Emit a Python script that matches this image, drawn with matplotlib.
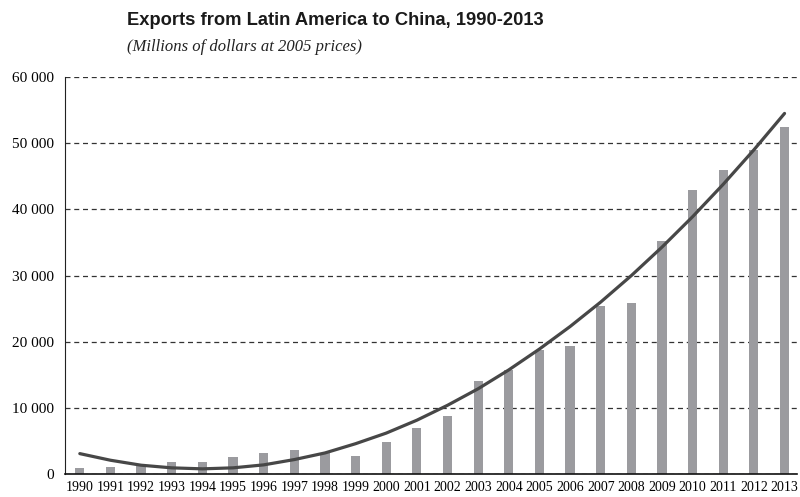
import matplotlib.pyplot as plt
import numpy as np

years = [str(y) for y in range(1990, 2014)]
exports = [1000, 1100, 1600, 1800, 1900, 2600, 3200, 3600, 3200, 2800,
           4800, 7000, 8800, 14100, 15800, 18700, 19300, 25400, 25900, 35200,
           42900, 45900, 49000, 52400]
trend = [3100, 2100, 1350, 950, 800, 950, 1400, 2200, 3200, 4600,
         6200, 8150, 10400, 12900, 15750, 18900, 22300, 26000, 30000, 34300,
         38900, 43800, 49000, 54500]

x = np.arange(len(years))

fig = plt.figure(figsize=(8, 4.97), dpi=100)
ax = fig.add_axes([0.081, 0.046, 0.915, 0.799])

ax.bar(x, exports, width=0.3, color="#9b9b9f", zorder=2)
ax.plot(x, trend, color="#474747", lw=2.3, zorder=3, solid_capstyle="round")

ax.set_xlim(-0.49, 23.4)
ax.set_ylim(0, 60000)
ax.set_yticks(range(0, 60001, 10000))
ax.set_yticklabels(["0", "10 000", "20 000", "30 000", "40 000", "50 000", "60 000"],
                   fontfamily="Liberation Serif", fontsize=11)
ax.set_xticks(x)
ax.set_xticklabels(years, fontfamily="Liberation Serif", fontsize=10)
ax.tick_params(length=0)
ax.tick_params(axis="y", pad=8)
ax.tick_params(axis="x", pad=5)

ax.grid(axis="y", color="#333333", linestyle=(0, (4, 3)), lw=0.9)
ax.set_axisbelow(True)
for s in ["top", "right"]:
    ax.spines[s].set_visible(False)
ax.spines["left"].set_color("#222222")
ax.spines["bottom"].set_color("#111111")
ax.spines["bottom"].set_linewidth(1.2)

fig.text(0.159, 0.958, "Exports from Latin America to China, 1990-2013",
         fontfamily="Liberation Sans", fontweight="bold", fontsize=13.2,
         va="center", color="#1a1a1a")
fig.text(0.159, 0.905, "(Millions of dollars at 2005 prices)",
         fontfamily="Liberation Serif", fontstyle="italic", fontsize=12,
         va="center", color="#222222")

fig.savefig("out.png", dpi=100)
